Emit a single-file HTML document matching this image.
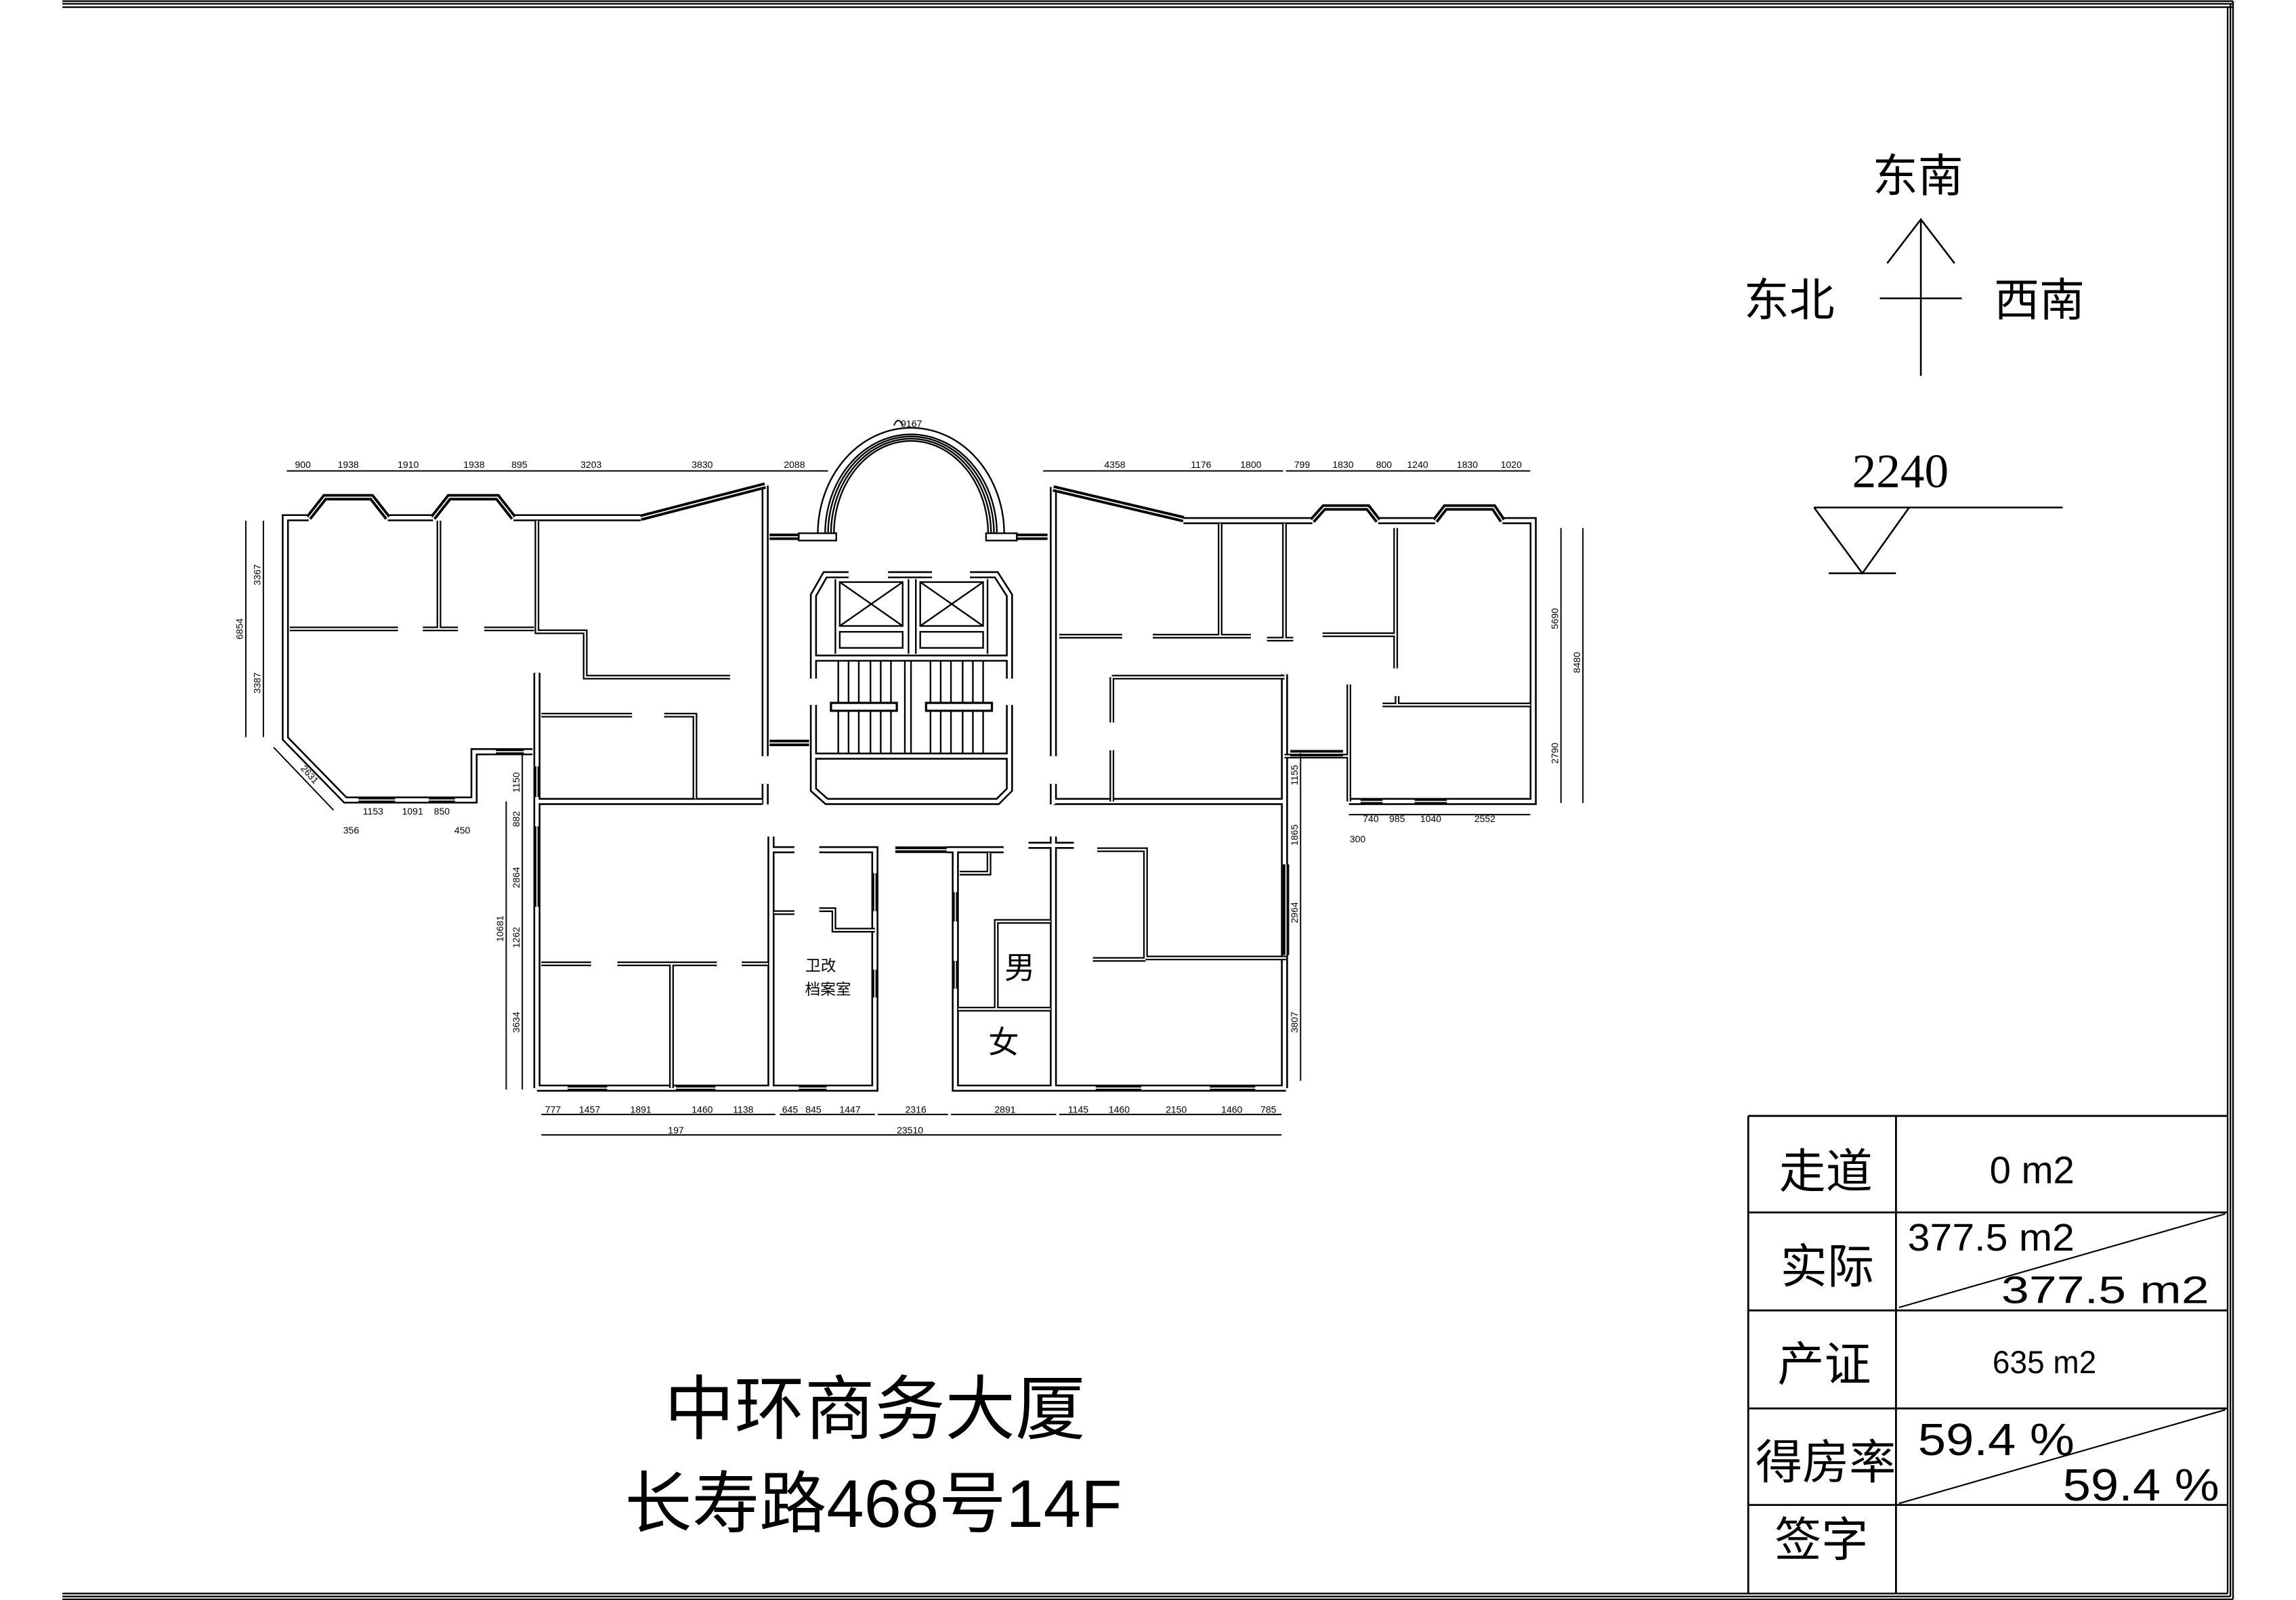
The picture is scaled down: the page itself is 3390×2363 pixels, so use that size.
<!DOCTYPE html>
<html><head><meta charset="utf-8"><style>
html,body{margin:0;padding:0;background:#fff;}
svg{display:block;}
.d{font-family:"Liberation Sans Narrow","Liberation Sans",sans-serif;font-size:6.5px;fill:#000;}
.c{font-family:"Liberation Sans","Noto Sans CJK SC",sans-serif;fill:#000;}
</style></head><body>
<svg width="3390" height="2363" viewBox="0 0 1569.4 1094" xmlns="http://www.w3.org/2000/svg">
<defs>
<g id="W" fill="none">
<path d="M364,514 L324,514 L324,547 L236,547 L195,505 L195,354 L211,354"/>
<path d="M265,354 L296,354"/>
<path d="M351,354 L438,354"/>
<path d="M523,332 L523,517 M523,536 L523,550"/>
<path d="M367,460 L367,744 M367,548 L521,548"/>
<path d="M367,744 L598,744 L598,581 L560,581 M527,572 L527,744 M527,581 L543,581"/>
<path d="M647,581 L686,581 M653,581 L653,744 L879,744"/>
<path d="M720,572 L720,744 M703,578 L734,578"/>
<path d="M580,393 L564,393 L556,407 L556,464 M607,393 L637,393 M663,393 L681,393 L690,407 L690,464"/>
<path d="M556,482 L556,540 L565,548 L682,548 L690,540 L690,482"/>
<path d="M556,450 L690,450 M556,517 L690,517"/>
<path d="M720,333 L720,517 M720,536 L720,550"/>
<path d="M809,356 L897,356"/>
<path d="M942,356 L981,356"/>
<path d="M1027,356 L1048,356 L1048,548 L922,548"/>
<path d="M720,548 L879,548 M878,461 L878,744"/>
</g>
<g id="T" fill="none">
<path d="M300,356 L300,430 M198,430 L272,430 M289,430 L313,430 M331,430 L365,430"/>
<path d="M367,356 L367,432 L400,432 L400,463 L499,463"/>
<path d="M370,489 L432,489 M454,489 L475,489 L475,546"/>
<path d="M370,659 L404,659 M422,659 L490,659 M459,659 L459,744 M507,659 L525,659"/>
<path d="M529,624 L543,624 M560,622 L570,622 L570,636 L598,636"/>
<path d="M681,690 L681,630 L718,630 M655,690 L718,690 M676,583 L676,597 L656,597"/>
<path d="M750,581 L783,581 L783,655 L879,655 M747,656 L783,656"/>
<path d="M760,463 L878,463 M760,463 L760,494 M760,513 L760,548"/>
<path d="M724,435 L767,435 M788,435 L834,435 L834,358 M834,435 L855,435"/>
<path d="M878,358 L878,437 M866,437 L884,437 M904,434 L954,434 M954,361 L954,457"/>
<path d="M945,482 L1046,482 M955,476 L955,482"/>
<path d="M922,468 L922,548 M878,517 L922,517"/>
</g>
<g id="N" fill="none">
<path d="M211,354 L222,340 L254,340 L265,354"/>
<path d="M296,354 L307,340 L340,340 L351,354"/>
<path d="M897,356 L905,347 L935,347 L942,356"/>
<path d="M981,356 L988,347 L1021,347 L1027,356"/>
<path d="M339,514 L358,514 M245,547 L270,547 M293,547 L311,547"/>
<path d="M367,524 L367,545 M367,565 L367,620"/>
<path d="M598,597 L598,623 M598,663 L598,682 M653,610 L653,630 M653,657 L653,676"/>
<path d="M388,744 L415,744 M462,744 L489,744 M546,744 L565,744 M749,744 L780,744 M827,744 L858,744"/>
<path d="M612,581 L647,581 M879,591 L879,653"/>
<path d="M930,548 L945,548 M967,548 L989,548 M882,515 L918,515"/>
<path d="M526,367 L547,367 M695,367 L716,367 M526,508 L553,508"/>
<path d="M438,354 L523,332 M720,334 L809,355"/>
</g>
</defs>
<rect width="1569.4" height="1094" fill="#fff"/>
<g stroke="#000" stroke-width="1.1" fill="none">
<path d="M42.6,0.8 L1526.4,0.8 M42.6,2.6 L1526.4,2.6 M42.6,4.9 L1526.4,4.9"/>
<path d="M1522.7,4.9 L1522.7,1089.6 M1524.6,2.6 L1524.6,1091.6 M1526.4,0.8 L1526.4,1093.5"/>
<path d="M42.6,1089.6 L1522.7,1089.6 M42.6,1091.6 L1524.6,1091.6 M42.6,1093.5 L1526.4,1093.5"/>
</g>
<g stroke="#000" stroke-width="1.2" fill="none">
<path d="M1313,150 L1313,257 M1290,180 L1313,150 L1336,180 M1285,204 L1341,204"/>
<path d="M1240,347 L1410,347 M1240,347 L1273,392 L1305,347 M1250,392 L1296,392"/>
</g>
<text class="c" x="1311" y="131" font-size="31" text-anchor="middle" font-family="Noto Sans CJK SC">东南</text>
<text class="c" x="1223" y="216" font-size="31" text-anchor="middle" font-family="Noto Sans CJK SC">东北</text>
<text class="c" x="1394" y="216" font-size="31" text-anchor="middle" font-family="Noto Sans CJK SC">西南</text>
<text x="1299" y="333" font-size="33" text-anchor="middle" font-family="Liberation Serif,serif">2240</text>
<g stroke="#000" stroke-width="1.3" fill="none">
<path d="M1195,763 L1522.7,763 M1195,763 L1195,1089.6 M1296,763 L1296,1089.6"/>
<path d="M1195,829 L1522.7,829 M1195,896 L1522.7,896 M1195,963 L1522.7,963 M1195,1029 L1522.7,1029"/>
<path d="M1298,894 L1521,830 M1298,1028 L1521,964" stroke-width="1"/>
</g>
<g class="c" font-family="Noto Sans CJK SC" font-size="32" text-anchor="middle">
<text x="1248" y="812">走道</text>
<text x="1249" y="877">实际</text>
<text x="1247" y="944">产证</text>
<text x="1248" y="1011">得房率</text>
<text x="1245" y="1064">签字</text>
</g>
<g font-family="Liberation Sans Narrow,Liberation Sans,sans-serif" fill="#000">
<text x="1360" y="809" font-size="26" textLength="58" lengthAdjust="spacingAndGlyphs">0 m2</text>
<text x="1304" y="855" font-size="26" textLength="114" lengthAdjust="spacingAndGlyphs">377.5 m2</text>
<text x="1368" y="891" font-size="26" textLength="142" lengthAdjust="spacingAndGlyphs">377.5 m2</text>
<text x="1362" y="939" font-size="22" textLength="71" lengthAdjust="spacingAndGlyphs">635 m2</text>
<text x="1311" y="995" font-size="31" textLength="107" lengthAdjust="spacingAndGlyphs">59.4 %</text>
<text x="1410" y="1026" font-size="31" textLength="107" lengthAdjust="spacingAndGlyphs">59.4 %</text>
</g>
<text class="c" x="598" y="980" font-size="48" text-anchor="middle" font-family="Noto Sans CJK SC" font-weight="400">中环商务大厦</text>
<text class="c" x="597" y="1044" font-size="46" text-anchor="middle" font-family="Noto Sans CJK SC" font-weight="400">长寿路468号14F</text>
<use href="#W" stroke="#000" stroke-width="4.8"/>
<use href="#W" stroke="#fff" stroke-width="2.4"/>
<use href="#T" stroke="#000" stroke-width="3.2"/>
<use href="#T" stroke="#fff" stroke-width="1.1"/>
<use href="#N" stroke="#000" stroke-width="4.4"/>
<use href="#N" stroke="#fff" stroke-width="0.8"/>
<g fill="none" stroke="#000" stroke-width="1.1">
<path d="M559,365 A63.7,72.5 0 0 1 686.4,365"/>
<path d="M564,365 A58.7,68 0 0 1 681.4,365"/>
<path d="M566,365 A56.7,66.5 0 0 1 679.4,365"/>
<path d="M568,365 A54.7,65 0 0 1 677.4,365"/>
<path d="M570,365 A52.7,63.5 0 0 1 675.4,365"/>
<rect x="546" y="364.6" width="25.6" height="5" fill="#fff"/>
<rect x="674" y="364.6" width="21" height="5" fill="#fff"/>
</g>
<g fill="none" stroke="#000" stroke-width="1.1">
<rect x="574" y="398" width="43" height="30"/><path d="M574,398 L617,428 M617,398 L574,428"/>
<rect x="629" y="398" width="43" height="30"/><path d="M629,398 L672,428 M672,398 L629,428"/>
<rect x="574" y="432" width="43" height="11"/><rect x="629" y="432" width="43" height="11"/>
<path d="M571,396 L571,447 M621,396 L621,447 M626,396 L626,447 M675,396 L675,447"/>
<path d="M573,452 V515 M580,452 V515 M587,452 V515 M595,452 V515 M602,452 V515 M609,452 V515 M618.5,452 V515 M622.7,452 V515 M636,452 V515 M643,452 V515 M650,452 V515 M658,452 V515 M665,452 V515 M672,452 V515"/>
<rect x="568" y="480.6" width="45" height="5.4" fill="#fff" stroke-width="1.5"/>
<rect x="633" y="480.6" width="45" height="5.4" fill="#fff" stroke-width="1.5"/>
</g>
<text class="c" x="561" y="664" font-size="10.5" text-anchor="middle" font-family="Noto Sans CJK SC">卫改</text>
<text class="c" x="566" y="680" font-size="10.5" text-anchor="middle" font-family="Noto Sans CJK SC">档案室</text>
<text class="c" x="697" y="669" font-size="21" text-anchor="middle" font-family="Noto Sans CJK SC">男</text>
<text class="c" x="686" y="720" font-size="21" text-anchor="middle" font-family="Noto Sans CJK SC">女</text>
<g stroke="#000" stroke-width="0.9" fill="none">
<path d="M196,322 L566,322 M713,322 L877,322 M879,322 L1046,322"/>
<path d="M168,356 L168,504 M180,356 L180,504"/>
<path d="M187,511 L228,554"/>
<path d="M346,548 L346,745 M357,515 L357,745"/>
<path d="M370,762 L530,762 M533,762 L598,762 M600,762 L648,762 M650,762 L722,762 M724,762 L876,762 M370,776 L876,776"/>
<path d="M889,515 L889,739"/>
<path d="M1067,361 L1067,549 M1082,361 L1082,549"/>
<path d="M922,557 L1046,557"/>
<path d="M611,291 Q614,284 617,291"/>
</g>
<g class="d">
<text x="207" y="320" text-anchor="middle">900</text>
<text x="238" y="320" text-anchor="middle">1938</text>
<text x="279" y="320" text-anchor="middle">1910</text>
<text x="324" y="320" text-anchor="middle">1938</text>
<text x="355" y="320" text-anchor="middle">895</text>
<text x="404" y="320" text-anchor="middle">3203</text>
<text x="480" y="320" text-anchor="middle">3830</text>
<text x="543" y="320" text-anchor="middle">2088</text>
<text x="623" y="292" text-anchor="middle">9167</text>
<text x="762" y="320" text-anchor="middle">4358</text>
<text x="821" y="320" text-anchor="middle">1176</text>
<text x="855" y="320" text-anchor="middle">1800</text>
<text x="890" y="320" text-anchor="middle">799</text>
<text x="918" y="320" text-anchor="middle">1830</text>
<text x="946" y="320" text-anchor="middle">800</text>
<text x="969" y="320" text-anchor="middle">1240</text>
<text x="1003" y="320" text-anchor="middle">1830</text>
<text x="1033" y="320" text-anchor="middle">1020</text>
<text x="255" y="557" text-anchor="middle">1153</text>
<text x="282" y="557" text-anchor="middle">1091</text>
<text x="302" y="557" text-anchor="middle">850</text>
<text x="240" y="570" text-anchor="middle">356</text>
<text x="316" y="570" text-anchor="middle">450</text>
<text x="937" y="562" text-anchor="middle">740</text>
<text x="955" y="562" text-anchor="middle">985</text>
<text x="978" y="562" text-anchor="middle">1040</text>
<text x="1015" y="562" text-anchor="middle">2552</text>
<text x="928" y="576" text-anchor="middle">300</text>
<text x="378" y="761" text-anchor="middle">777</text>
<text x="403" y="761" text-anchor="middle">1457</text>
<text x="438" y="761" text-anchor="middle">1891</text>
<text x="480" y="761" text-anchor="middle">1460</text>
<text x="508" y="761" text-anchor="middle">1138</text>
<text x="540" y="761" text-anchor="middle">645</text>
<text x="556" y="761" text-anchor="middle">845</text>
<text x="581" y="761" text-anchor="middle">1447</text>
<text x="626" y="761" text-anchor="middle">2316</text>
<text x="687" y="761" text-anchor="middle">2891</text>
<text x="737" y="761" text-anchor="middle">1145</text>
<text x="765" y="761" text-anchor="middle">1460</text>
<text x="804" y="761" text-anchor="middle">2150</text>
<text x="842" y="761" text-anchor="middle">1460</text>
<text x="867" y="761" text-anchor="middle">785</text>
<text x="462" y="775" text-anchor="middle">197</text>
<text x="622" y="775" text-anchor="middle">23510</text>
<text transform="translate(166,430) rotate(-90)" text-anchor="middle">6854</text>
<text transform="translate(178,393) rotate(-90)" text-anchor="middle">3367</text>
<text transform="translate(178,467) rotate(-90)" text-anchor="middle">3387</text>
<text transform="translate(210,531) rotate(48)" text-anchor="middle">2631</text>
<text transform="translate(344,635) rotate(-90)" text-anchor="middle">10681</text>
<text transform="translate(355,535) rotate(-90)" text-anchor="middle">1150</text>
<text transform="translate(355,560) rotate(-90)" text-anchor="middle">882</text>
<text transform="translate(355,600) rotate(-90)" text-anchor="middle">2864</text>
<text transform="translate(355,641) rotate(-90)" text-anchor="middle">1262</text>
<text transform="translate(355,699) rotate(-90)" text-anchor="middle">3634</text>
<text transform="translate(887,530) rotate(-90)" text-anchor="middle">1155</text>
<text transform="translate(887,571) rotate(-90)" text-anchor="middle">1865</text>
<text transform="translate(887,624) rotate(-90)" text-anchor="middle">2964</text>
<text transform="translate(887,699) rotate(-90)" text-anchor="middle">3807</text>
<text transform="translate(1065,423) rotate(-90)" text-anchor="middle">5690</text>
<text transform="translate(1080,453) rotate(-90)" text-anchor="middle">8480</text>
<text transform="translate(1065,515) rotate(-90)" text-anchor="middle">2790</text>
</g>
</svg>
</body></html>
